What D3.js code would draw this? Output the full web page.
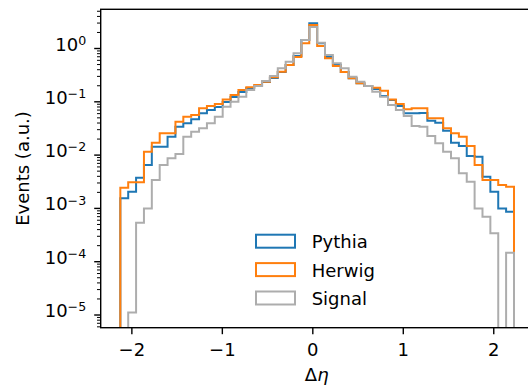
<!DOCTYPE html>
<meta charset="utf-8">
<style>
 body { margin: 0; background: #fff; }
 svg { display: block; }
 .axis text { font: 18px "DejaVu Sans", sans-serif; fill: #000; }
 .axis line { stroke: #000; }
 .axis-label { font: 18px "DejaVu Sans", sans-serif; fill: #000; }
 .legend text { font: 18px "DejaVu Sans", sans-serif; fill: #000; }
 .frame { fill: none; stroke: #000; stroke-width: 1.4; }
 .hist { fill: none; stroke-width: 2; }
</style>
<body>
<svg width="528" height="386"></svg>
<script src="https://d3js.org/d3.v7.min.js"></script>
<script>

 // histogram binning (delta eta)
 var binLo = -2.122, binHi = 2.229, binCount = 50;

 // bin contents, left to right (0 = empty bin)
 var pythia = [1.55e-3, 2.06e-3, 3.77e-3, 6.52e-3, 1.44e-2, 1.44e-2, 2.21e-2, 3.41e-2, 3.95e-2, 4.70e-2,
               6.08e-2, 7.02e-2, 7.98e-2, 9.91e-2, 0.123, 0.153, 0.182, 0.198, 0.235, 0.280,
               0.362, 0.490, 0.723, 1.44, 2.97, 1.25, 0.693, 0.490, 0.362, 0.276,
               0.222, 0.198, 0.174, 0.128, 0.108, 0.0834, 0.0608, 0.0608, 0.0616, 0.0442,
               0.0405, 0.0287, 0.0171, 0.0148, 9.62e-3, 9.33e-3, 3.94e-3, 2.06e-3, 1.00e-3, 8.67e-4];
 var herwig = [2.44e-3, 3.09e-3, 3.09e-3, 1.16e-2, 1.71e-2, 2.56e-2, 2.56e-2, 4.23e-2, 5.25e-2, 5.65e-2,
               7.55e-2, 8.34e-2, 9.10e-2, 0.111, 0.134, 0.166, 0.187, 0.207, 0.238, 0.288,
               0.367, 0.490, 0.693, 1.25, 2.76, 1.11, 0.655, 0.469, 0.362, 0.276,
               0.222, 0.198, 0.184, 0.162, 0.111, 0.091, 0.0723, 0.0755, 0.0755, 0.0490,
               0.0490, 0.0318, 0.0256, 0.0221, 0.0148, 6.52e-3, 3.41e-3, 3.41e-3, 2.75e-3, 2.55e-3];
 var signal = [0, 1.12e-5, 5.40e-4, 1.00e-3, 3.41e-3, 6.52e-3, 8.71e-3, 1.05e-2, 2.21e-2, 2.75e-2,
               3.18e-2, 3.95e-2, 5.25e-2, 8.09e-2, 0.100, 0.125, 0.166, 0.198, 0.246, 0.305,
               0.425, 0.565, 0.813, 1.44, 2.53, 1.28, 0.755, 0.528, 0.425, 0.296,
               0.238, 0.198, 0.155, 0.125, 0.0871, 0.0702, 0.0542, 0.0352, 0.0341, 0.0228,
               0.0167, 0.0116, 8.71e-3, 4.56e-3, 3.17e-3, 1.00e-3, 6.98e-4, 3.41e-4, 0, 1.48e-4];

 var seriesNames = ["Pythia", "Herwig", "Signal"];
 var seriesColors = ["#1f77b4", "#ff7f0e", "#adadad"];
 var xTicks = [-2, -1, 0, 1, 2];
 var yExps = [-5, -4, -3, -2, -1, 0];

 var svg = d3.select("svg"),
     margin = {top: 9.3, left: 100.7},
     width = 433,
     height = 318.4;

 var x = d3.scaleLinear().domain([-2.339, 2.447]).range([0, width]);
 var y = d3.scaleLog().domain([5.78e-6, 5.44]).range([height, 0]);

 var g = svg.append("g")
            .attr("transform", "translate(" + margin.left + "," + margin.top + ")");

 svg.append("defs").append("clipPath").attr("id", "clip")
    .append("rect").attr("width", width).attr("height", height);

 var edges = d3.range(binCount + 1).map(function(i) { return binLo + (binHi - binLo) * i / binCount; });

 function stepPoints(vals) {
     var yy = function(v) { return v > 0 ? y(v) : height + 20; };
     var pts = [[x(edges[0]), height + 20]];
     vals.forEach(function(v, i) {
         pts.push([x(edges[i]), yy(v)]);
         pts.push([x(edges[i + 1]), yy(v)]);
     });
     pts.push([x(edges[binCount]), height + 20]);
     return pts;
 }

 var line = d3.line();
 var plot = g.append("g").attr("clip-path", "url(#clip)");
 [pythia, herwig, signal].forEach(function(vals, i) {
     plot.append("path")
         .attr("class", "hist")
         .attr("d", line(stepPoints(vals)))
         .style("stroke", seriesColors[i]);
 });

 // x axis
 var xAxis = g.append("g")
     .attr("class", "axis")
     .attr("transform", "translate(0," + height + ")")
     .call(d3.axisBottom(x).tickValues(xTicks).tickSize(6.5).tickPadding(9).tickFormat(d3.format("d")));
 xAxis.select(".domain").remove();
 xAxis.selectAll("line").style("stroke-width", 1.4);

 // y axis, log ticks drawn by hand
 var yAxis = g.append("g").attr("class", "axis");
 var minor = [];
 for (var e = -6; e <= 0; e++) {
     for (var m = 2; m <= 9; m++) {
         var v = m * Math.pow(10, e);
         if (v >= y.domain()[0] && v <= y.domain()[1]) minor.push(v);
     }
 }
 yAxis.selectAll(".minor").data(minor).enter().append("line")
      .attr("class", "minor")
      .attr("x1", -3.7).attr("x2", 0)
      .attr("y1", function(d) { return y(d); })
      .attr("y2", function(d) { return y(d); })
      .style("stroke-width", 1);
 var major = yAxis.selectAll(".major").data(yExps).enter().append("g")
      .attr("class", "major")
      .attr("transform", function(d) { return "translate(0," + y(Math.pow(10, d)) + ")"; });
 major.append("line").attr("x1", -6.5).attr("x2", 0).style("stroke-width", 1.4);
 var lab = major.append("text")
      .attr("x", -14.5)
      .attr("y", 2)
      .attr("text-anchor", "end");
 lab.append("tspan").text("10");
 lab.append("tspan")
    .attr("dy", "-0.45em")
    .style("font-size", "12.6px")
    .text(function(d) { return d < 0 ? "\u2212" + (-d) : d; });

 g.append("rect").attr("class", "frame").attr("width", width).attr("height", height);

 // axis labels
 var xl = svg.append("text")
     .attr("class", "axis-label")
     .attr("x", 316.7)
     .attr("y", 381)
     .attr("text-anchor", "middle");
 xl.append("tspan").text("\u0394");
 xl.append("tspan").style("font-style", "italic").text("\u03b7");

 svg.append("text")
    .attr("class", "axis-label")
    .attr("transform", "translate(29.3," + (margin.top + height / 2) + ") rotate(-90)")
    .attr("text-anchor", "middle")
    .text("Events (a.u.)");

 // legend
 var legend = svg.append("g").attr("class", "legend");
 var item = legend.selectAll("g").data(seriesNames).enter().append("g")
     .attr("transform", function(d, i) { return "translate(256," + (241.2 + i * 28.4) + ")"; });
 item.append("rect")
     .attr("x", 0).attr("y", -6.5).attr("width", 39).attr("height", 13)
     .style("fill", "none").style("stroke-width", 2)
     .style("stroke", function(d, i) { return seriesColors[i]; });
 item.append("text")
     .attr("x", 55.7).attr("y", 7)
     .text(function(d) { return d; });

</script>
